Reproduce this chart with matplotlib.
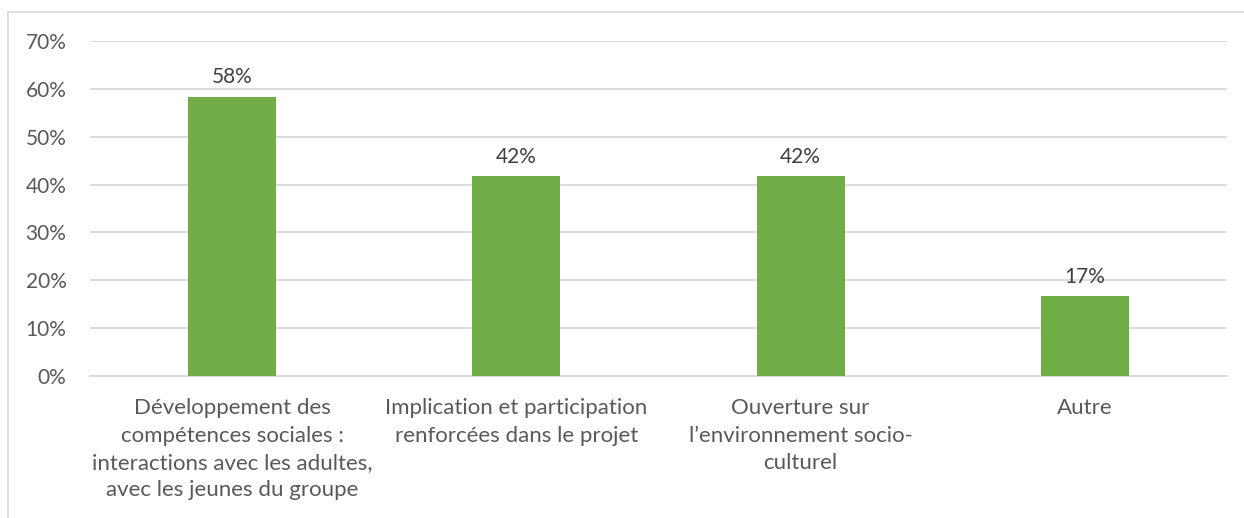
import matplotlib
matplotlib.use("Agg")
import matplotlib.pyplot as plt
from matplotlib.lines import Line2D
from matplotlib.ticker import FuncFormatter, MultipleLocator

categories = [
    "Développement des\ncompétences sociales :\ninteractions avec les adultes,\navec les jeunes du groupe",
    "Implication et participation\nrenforcées dans le projet",
    "Ouverture sur\nl\u2019environnement socio-\nculturel",
    "Autre",
]
values = [58.3, 41.7, 41.7, 16.7]
labels = ["58%", "42%", "42%", "17%"]

W, H = 1244, 518
fig = plt.figure(figsize=(W / 100, H / 100), dpi=100)
plt.rcParams['font.family'] = ['Lato', 'DejaVu Sans']
ax = fig.add_axes([90 / W, 1 - 376 / H, (1227 - 90) / W, (376 - 41) / H])

x = list(range(len(categories)))
ax.bar(x, values, width=0.31, color="#70AD47", zorder=3)
for xi, v, lab in zip(x, values, labels):
    ax.text(xi, v + 2.0, lab, ha="center", va="bottom", fontsize=15, color="#404040")

ax.set_xlim(-0.5, len(categories) - 0.5)
ax.set_ylim(0, 70)
ax.yaxis.set_major_locator(MultipleLocator(10))
ax.yaxis.set_major_formatter(FuncFormatter(lambda v, p: f"{int(round(v))}%"))
ax.set_xticks(x)
ax.set_xticklabels(categories, fontsize=16, color="#595959", linespacing=1.46)
ax.tick_params(axis="y", labelsize=15, labelcolor="#595959", length=0, pad=17)
ax.tick_params(axis="x", length=0, pad=16)
ax.grid(axis="y", color="#D9D9D9", linewidth=1.3, zorder=0)
for s in ["top", "right", "left"]:
    ax.spines[s].set_visible(False)
ax.spines["bottom"].set_color("#D9D9D9")
ax.spines["bottom"].set_linewidth(1.3)

# outer chart border (left and top)
fig.add_artist(Line2D([8 / W, 8 / W], [0, 1 - 12 / H], transform=fig.transFigure, color="#D9D9D9", lw=1.2))
fig.add_artist(Line2D([8 / W, 1], [1 - 12 / H, 1 - 12 / H], transform=fig.transFigure, color="#D9D9D9", lw=1.2))

fig.savefig("out.png", dpi=100, facecolor="white")
